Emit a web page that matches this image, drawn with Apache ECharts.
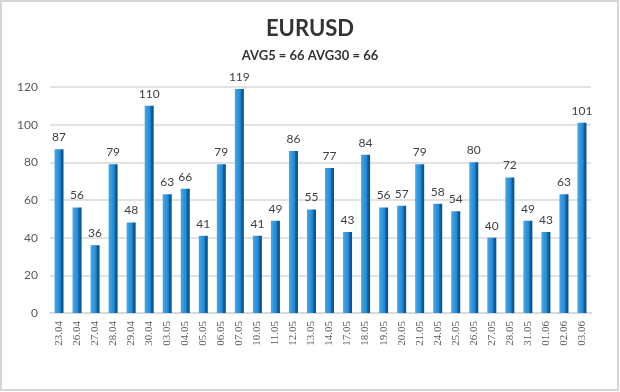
<!DOCTYPE html>
<html><head><meta charset="utf-8">
<script src="https://cdn.jsdelivr.net/npm/echarts@6/dist/echarts.min.js"></script>
<style>html,body{margin:0;padding:0;background:#fff}#c{width:620px;height:392px}</style>
</head><body><div id="c"></div>
<script>
const categories = ["23.04","26.04","27.04","28.04","29.04","30.04","03.05","04.05","05.05","06.05","07.05","10.05","11.05","12.05","13.05","14.05","17.05","18.05","19.05","20.05","21.05","24.05","25.05","26.05","27.05","28.05","31.05","01.06","02.06","03.06"];
const values = [87,56,36,79,48,110,63,66,41,79,119,41,49,86,55,77,43,84,56,57,79,58,54,80,40,72,49,43,63,101];
const titleText = "EURUSD";
const subtitleText = "AVG5 = 66 AVG30 = 66";

const chart = echarts.init(document.getElementById('c'), null, {renderer:'canvas'});
chart.setOption({
  backgroundColor:'#fff',
  animation:false,
  graphic:[{type:'rect',shape:{x:1,y:1,width:617,height:389},style:{fill:'none',stroke:'#d6d6d6',lineWidth:2},silent:true}],
  title:[
    {text:titleText,left:'center',top:13,textStyle:{fontFamily:'Lato',fontWeight:'bold',fontSize:22,color:'#333'}},
    {text:subtitleText,left:'center',top:44,textStyle:{fontFamily:'Lato',fontWeight:'bold',fontSize:13,color:'#333'}}
  ],
  grid:{left:50,right:29,top:87,bottom:79},
  xAxis:{type:'category',data:categories,
    axisLine:{show:true,lineStyle:{color:'#d9d9d9',width:2}},axisTick:{show:false},
    axisLabel:{rotate:90,interval:0,color:'#595959',fontFamily:'Liberation Serif',fontSize:11,margin:8}},
  yAxis:{type:'value',min:0,max:120,interval:20,
    axisLine:{show:false},axisTick:{show:false},
    axisLabel:{color:'#595959',fontFamily:'Lato',fontSize:12,margin:12},
    splitLine:{lineStyle:{color:'#d9d9d9',width:1.5}}},
  series:[{type:'bar',data:values,barWidth:9,
    itemStyle:{color:new echarts.graphic.LinearGradient(0,0,1,0,[
      {offset:0,color:'#4aa6e6'},{offset:0.6,color:'#1f8ad6'},{offset:0.75,color:'#0e5f9e'},{offset:1,color:'#0b4f86'}])},
    label:{show:true,position:'top',distance:6,color:'#404040',fontFamily:'Lato',fontSize:12}
  }]
});
</script></body></html>
